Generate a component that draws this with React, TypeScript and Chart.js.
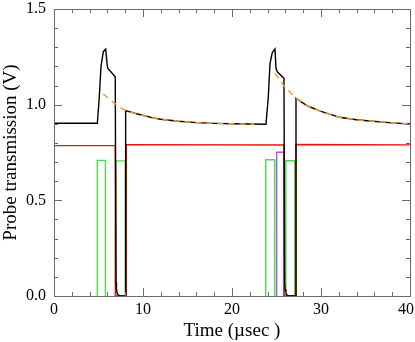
import React, { useEffect, useRef } from "react";
import { Chart, registerables } from "chart.js";

Chart.register(...registerables);

// Black: probe transmission trace
const blackT = [0, 4.87, 5.09, 5.28, 5.54, 5.81, 5.95, 6.03, 6.29, 6.88, 6.97, 7.02, 7.1, 7.2, 7.35, 7.55, 8.04, 8.05, 9.5, 11, 12, 14, 16, 18, 20, 23.82, 24.08, 24.27, 24.53, 24.83, 24.94, 25.09, 25.84, 25.92, 25.97, 26.05, 26.15, 26.3, 26.5, 27.18, 27.19, 28.5, 30, 32.1, 34, 35.5, 38, 40];
const blackV = [0.903, 0.903, 1.04, 1.2, 1.277, 1.29, 1.22, 1.19, 1.177, 1.146, 0.07, 0.035, 0.015, 0.006, 0.002, 0, 0, 0.969, 0.95, 0.932, 0.924, 0.913, 0.906, 0.902, 0.9, 0.898, 1.04, 1.216, 1.272, 1.291, 1.19, 1.172, 1.138, 0.07, 0.035, 0.015, 0.006, 0.002, 0, 0, 1.033, 0.993, 0.965, 0.934, 0.921, 0.915, 0.905, 0.899];

// Orange dashed: decay fits
const fit1T = [5.54, 6.5, 7.42, 8.05, 9.5, 11, 12, 14, 16, 18, 20, 22.5];
const fit1V = [1.056, 1.018, 0.986, 0.969, 0.95, 0.932, 0.924, 0.913, 0.906, 0.902, 0.9, 0.898];
const fit2T = [24.83, 25.84, 27.19, 28.5, 30, 32.1, 34, 35.5, 38, 40];
const fit2V = [1.164, 1.098, 1.033, 0.993, 0.965, 0.934, 0.921, 0.915, 0.905, 0.899];

// Red trace
const redT = [0, 6.89, 6.89, 8.12, 8.12, 25.84, 25.84, 27.19, 27.19, 40];
const redV = [0.786, 0.786, 0, 0, 0.791, 0.789, 0, 0, 0.792, 0.79];

// Green pulses
const greenStart = [4.87, 6.97, 23.79, 26.05];
const greenEnd = [5.78, 8.01, 24.8, 27.04];
const greenHeight = [0.709, 0.706, 0.712, 0.707];

// Purple pulse
const purpleStart = [25.02];
const purpleEnd = [25.85];
const purpleHeight = [0.751];

const xTickLabels = [0, 10, 20, 30, 40];
const yTickLabels = ["0.0", "0.5", "1.0", "1.5"];

const FONT = '"Liberation Serif", "Times New Roman", serif';

function pts(t: number[], v: number[]) {
  return t.map((x, i) => ({ x, y: v[i] }));
}
function pulses(s: number[], e: number[], h: number[]) {
  const out: any[] = [];
  s.forEach((st, i) => {
    out.push({ x: st, y: 0 }, { x: st, y: h[i] }, { x: e[i], y: h[i] }, { x: e[i], y: 0 }, { x: e[i], y: null });
  });
  return out;
}

const tickPlugin = {
  id: "frameTicks",
  afterDraw(chart: any) {
    const { ctx, chartArea, scales } = chart;
    const { left, right, top, bottom } = chartArea;
    const x = scales.x, y = scales.y;
    ctx.save();
    ctx.strokeStyle = "#6a6a6a";
    ctx.lineWidth = 1;
    ctx.strokeRect(Math.round(left) + 0.5, Math.round(top) + 0.5, Math.round(right - left), Math.round(bottom - top));
    ctx.beginPath();
    for (let i = 0; i <= 20; i++) {
      const px = Math.round(x.getPixelForValue(i * 2)) + 0.5;
      const len = i % 5 === 0 ? 8 : 4;
      ctx.moveTo(px, bottom);
      ctx.lineTo(px, bottom - len);
      ctx.moveTo(px, top);
      ctx.lineTo(px, top + len);
    }
    for (let i = 0; i <= 15; i++) {
      const py = Math.round(y.getPixelForValue(i / 10)) + 0.5;
      const len = i % 5 === 0 ? 8 : 4;
      ctx.moveTo(left, py);
      ctx.lineTo(left + len, py);
      ctx.moveTo(right, py);
      ctx.lineTo(right - len, py);
    }
    ctx.stroke();
    // x tick labels, kept inside the canvas
    ctx.fillStyle = "#000";
    ctx.font = `16px ${FONT}`;
    ctx.textAlign = "center";
    ctx.textBaseline = "alphabetic";
    xTickLabels.forEach((v) => {
      const label = String(v);
      const w = ctx.measureText(label).width;
      let px = x.getPixelForValue(v);
      px = Math.min(px, chart.width - 1 - w / 2);
      ctx.fillText(label, px, 314);
    });
    ctx.restore();
  },
};

export default function App() {
  const ref = useRef<HTMLCanvasElement>(null);
  useEffect(() => {
    if (!ref.current) return;
    const fitData = [...pts(fit1T, fit1V), { x: 23, y: null }, ...pts(fit2T, fit2V)];
    const chart = new Chart(ref.current, {
      type: "scatter",
      data: {
        datasets: [
          {
            data: fitData as any,
            showLine: true,
            borderColor: "#f0a030",
            borderWidth: 1.5,
            borderDash: [6, 5],
            pointRadius: 0,
            spanGaps: false,
            order: 0,
          },
          {
            data: pts(blackT, blackV),
            showLine: true,
            borderColor: "#000000",
            borderWidth: 1.4,
            pointRadius: 0,
            order: 1,
          },
          {
            data: pts(redT, redV),
            showLine: true,
            borderColor: "#ee1111",
            borderWidth: 1.4,
            pointRadius: 0,
            order: 2,
          },
          {
            data: pulses(purpleStart, purpleEnd, purpleHeight) as any,
            showLine: true,
            borderColor: "#b050f0",
            borderWidth: 1.4,
            pointRadius: 0,
            spanGaps: false,
            order: 3,
          },
          {
            data: pulses(greenStart, greenEnd, greenHeight) as any,
            showLine: true,
            borderColor: "#44e044",
            borderWidth: 1.4,
            pointRadius: 0,
            spanGaps: false,
            order: 4,
          },
        ],
      },
      options: {
        animation: false,
        responsive: false,
        maintainAspectRatio: false,
        layout: { padding: { top: 9, right: 5, left: 0, bottom: 0 } },
        plugins: { legend: { display: false }, tooltip: { enabled: false } },
        elements: { line: { tension: 0 } },
        scales: {
          x: {
            type: "linear",
            min: 0,
            max: 40,
            afterBuildTicks: (s: any) => {
              s.ticks = xTickLabels.map((v) => ({ value: v }));
            },
            ticks: { display: false },
            grid: { display: false, drawTicks: false },
            border: { display: false },
            title: { display: true, text: "Time (µsec )", font: { family: FONT, size: 19 }, color: "#000", padding: { top: 2, bottom: 0 } },
            afterFit: (s: any) => {
              s.height = 46;
              s.paddingLeft = 0;
              s.paddingRight = 0;
            },
          },
          y: {
            type: "linear",
            min: 0,
            max: 1.5,
            afterBuildTicks: (s: any) => {
              s.ticks = yTickLabels.map((v) => ({ value: parseFloat(v) }));
            },
            ticks: {
              font: { family: FONT, size: 16 },
              color: "#000",
              padding: 8,
              callback: (v: any) => Number(v).toFixed(1),
            },
            grid: { display: false, drawTicks: false },
            border: { display: false },
            title: { display: true, text: "Probe transmission (V)", font: { family: FONT, size: 19 }, color: "#000", padding: { top: 0, bottom: 2 } },
            afterFit: (s: any) => {
              s.width = 54;
              s.paddingTop = 0;
              s.paddingBottom = 0;
            },
          },
        },
      },
      plugins: [tickPlugin],
    });
    return () => chart.destroy();
  }, []);
  return (
    <div style={{ position: "absolute", left: 0, top: 0, width: 415, height: 342, background: "#fff" }}>
      <canvas ref={ref} width={415} height={342} style={{ display: "block" }} />
    </div>
  );
}
